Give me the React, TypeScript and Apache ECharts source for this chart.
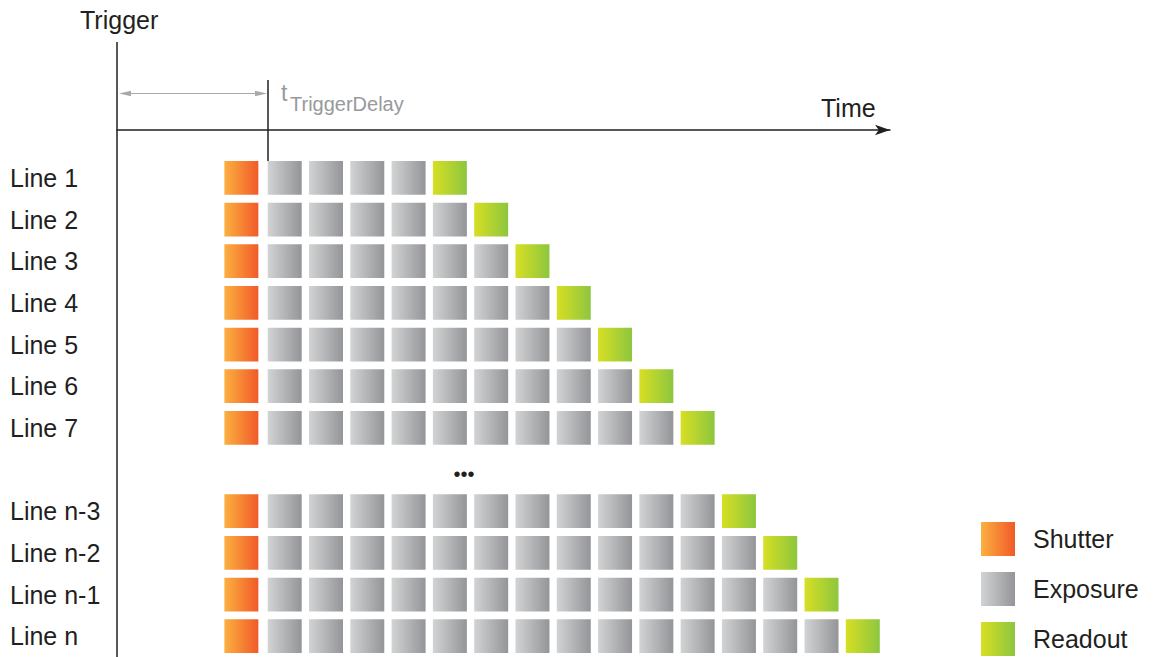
import React, { useEffect, useRef } from 'react';
import * as echarts from 'echarts';

// ---- data ----
const lineLabels = [
  'Line 1', 'Line 2', 'Line 3', 'Line 4', 'Line 5', 'Line 6', 'Line 7',
  '',
  'Line n-3', 'Line n-2', 'Line n-1', 'Line n',
];
// number of exposure slots per line (0 = gap row)
const exposureCounts = [4, 5, 6, 7, 8, 9, 10, 0, 11, 12, 13, 14];
const seriesNames = ['Shutter', 'Exposure', 'Readout'];
// time values in slot units (trigger at 0)
const triggerDelay = 3.65;
const shutterStart = 2.6;
const timeMax = 18.72;
const cellWidth = 0.823;

const shutterData: number[][] = [];
const exposureData: number[][] = [];
const readoutData: number[][] = [];
exposureCounts.forEach((count, row) => {
  if (!count) return;
  shutterData.push([shutterStart, row]);
  for (let j = 0; j < count; j++) exposureData.push([triggerDelay + j, row]);
  readoutData.push([triggerDelay + count, row]);
});

const FONT = '"Liberation Sans", Arial, sans-serif';
const INK = '#231f20';
const GRAY = '#97999c';

const grad = (a: string, b: string) =>
  new echarts.graphic.LinearGradient(0, 0, 1, 0, [
    { offset: 0, color: a },
    { offset: 1, color: b },
  ]);

const colors: Record<string, [string, string]> = {
  Shutter: ['#fbb040', '#f15a29'],
  Exposure: ['#d1d3d4', '#939598'],
  Readout: ['#d7df23', '#8dc63f'],
};

const makeSeries = (name: string, data: number[][]) => ({
  type: 'custom',
  name,
  data,
  itemStyle: { color: grad(colors[name][0], colors[name][1]) },
  renderItem: (params: any, api: any) => {
    const x = api.value(0);
    const y = api.value(1);
    const p = api.coord([x, y]);
    const bandH = api.size([0, 1])[1];
    const w = api.size([cellWidth, 0])[0];
    const h = bandH * 0.81;
    return {
      type: 'rect',
      shape: { x: p[0], y: p[1] - h / 2, width: w, height: h },
      style: { fill: grad(colors[name][0], colors[name][1]) },
    };
  },
});

export default function App() {
  const ref = useRef<HTMLDivElement>(null);
  useEffect(() => {
    if (!ref.current) return;
    const chart = echarts.init(ref.current, undefined, { renderer: 'svg' });
    chart.setOption({
      animation: false,
      textStyle: { fontFamily: FONT },
      grid: { left: 117, top: 157, width: 773, height: 503 },
      xAxis: {
        type: 'value',
        min: 0,
        max: timeMax,
        position: 'top',
        offset: 27,
        axisLine: {
          show: true,
          symbol: ['none', 'arrow'],
          symbolSize: [8, 15],
          lineStyle: { color: INK, width: 1.5 },
        },
        axisTick: { show: false },
        axisLabel: { show: false },
        splitLine: { show: false },
      },
      yAxis: {
        type: 'category',
        inverse: true,
        data: lineLabels,
        axisLine: { show: false },
        axisTick: { show: false },
        axisLabel: {
          align: 'left',
          margin: 107,
          fontSize: 25,
          color: INK,
          fontFamily: FONT,
        },
      },
      legend: {
        data: seriesNames,
        orient: 'vertical',
        left: 981,
        top: 522,
        padding: 0,
        itemWidth: 34,
        itemHeight: 34,
        itemGap: 16,
        icon: 'rect',
        textStyle: { fontSize: 25, color: INK, fontFamily: FONT, padding: [0, 0, 0, 13] },
        selectedMode: false,
      },
      series: [
        makeSeries('Shutter', shutterData),
        makeSeries('Exposure', exposureData),
        makeSeries('Readout', readoutData),
      ],
      graphic: [
        // trigger vertical line
        { type: 'line', shape: { x1: 117, y1: 42, x2: 117, y2: 660 }, style: { stroke: INK, lineWidth: 1.5 } },
        // trigger delay line
        { type: 'line', shape: { x1: 268, y1: 80, x2: 268, y2: 161 }, style: { stroke: INK, lineWidth: 1.5 } },
        // delay arrow
        { type: 'line', shape: { x1: 122, y1: 93.5, x2: 264, y2: 93.5 }, style: { stroke: '#a7a9ac', lineWidth: 1 } },
        { type: 'polygon', shape: { points: [[119, 93.5], [131, 90.8], [131, 96.2]] }, style: { fill: '#a7a9ac' } },
        { type: 'polygon', shape: { points: [[267, 93.5], [255, 90.8], [255, 96.2]] }, style: { fill: '#a7a9ac' } },
        { type: 'text', x: 80, y: 20, style: { text: 'Trigger', fontSize: 25, fill: INK, fontFamily: FONT, verticalAlign: 'middle' } },
        { type: 'text', x: 821, y: 108, style: { text: 'Time', fontSize: 25, fill: INK, fontFamily: FONT, verticalAlign: 'middle' } },
        { type: 'text', x: 281, y: 93, style: { text: 't', fontSize: 23, fill: GRAY, fontFamily: FONT, verticalAlign: 'middle' } },
        { type: 'text', x: 290, y: 104, style: { text: 'TriggerDelay', fontSize: 20, fill: GRAY, fontFamily: FONT, verticalAlign: 'middle' } },
        { type: 'text', x: 464, y: 474, style: { text: '•••', fontSize: 20, fill: INK, fontFamily: FONT, align: 'center', verticalAlign: 'middle' } },
      ],
    });
    return () => chart.dispose();
  }, []);
  return (
    <div
      ref={ref}
      style={{ position: 'absolute', left: 0, top: 0, width: 1158, height: 657 }}
    />
  );
}
